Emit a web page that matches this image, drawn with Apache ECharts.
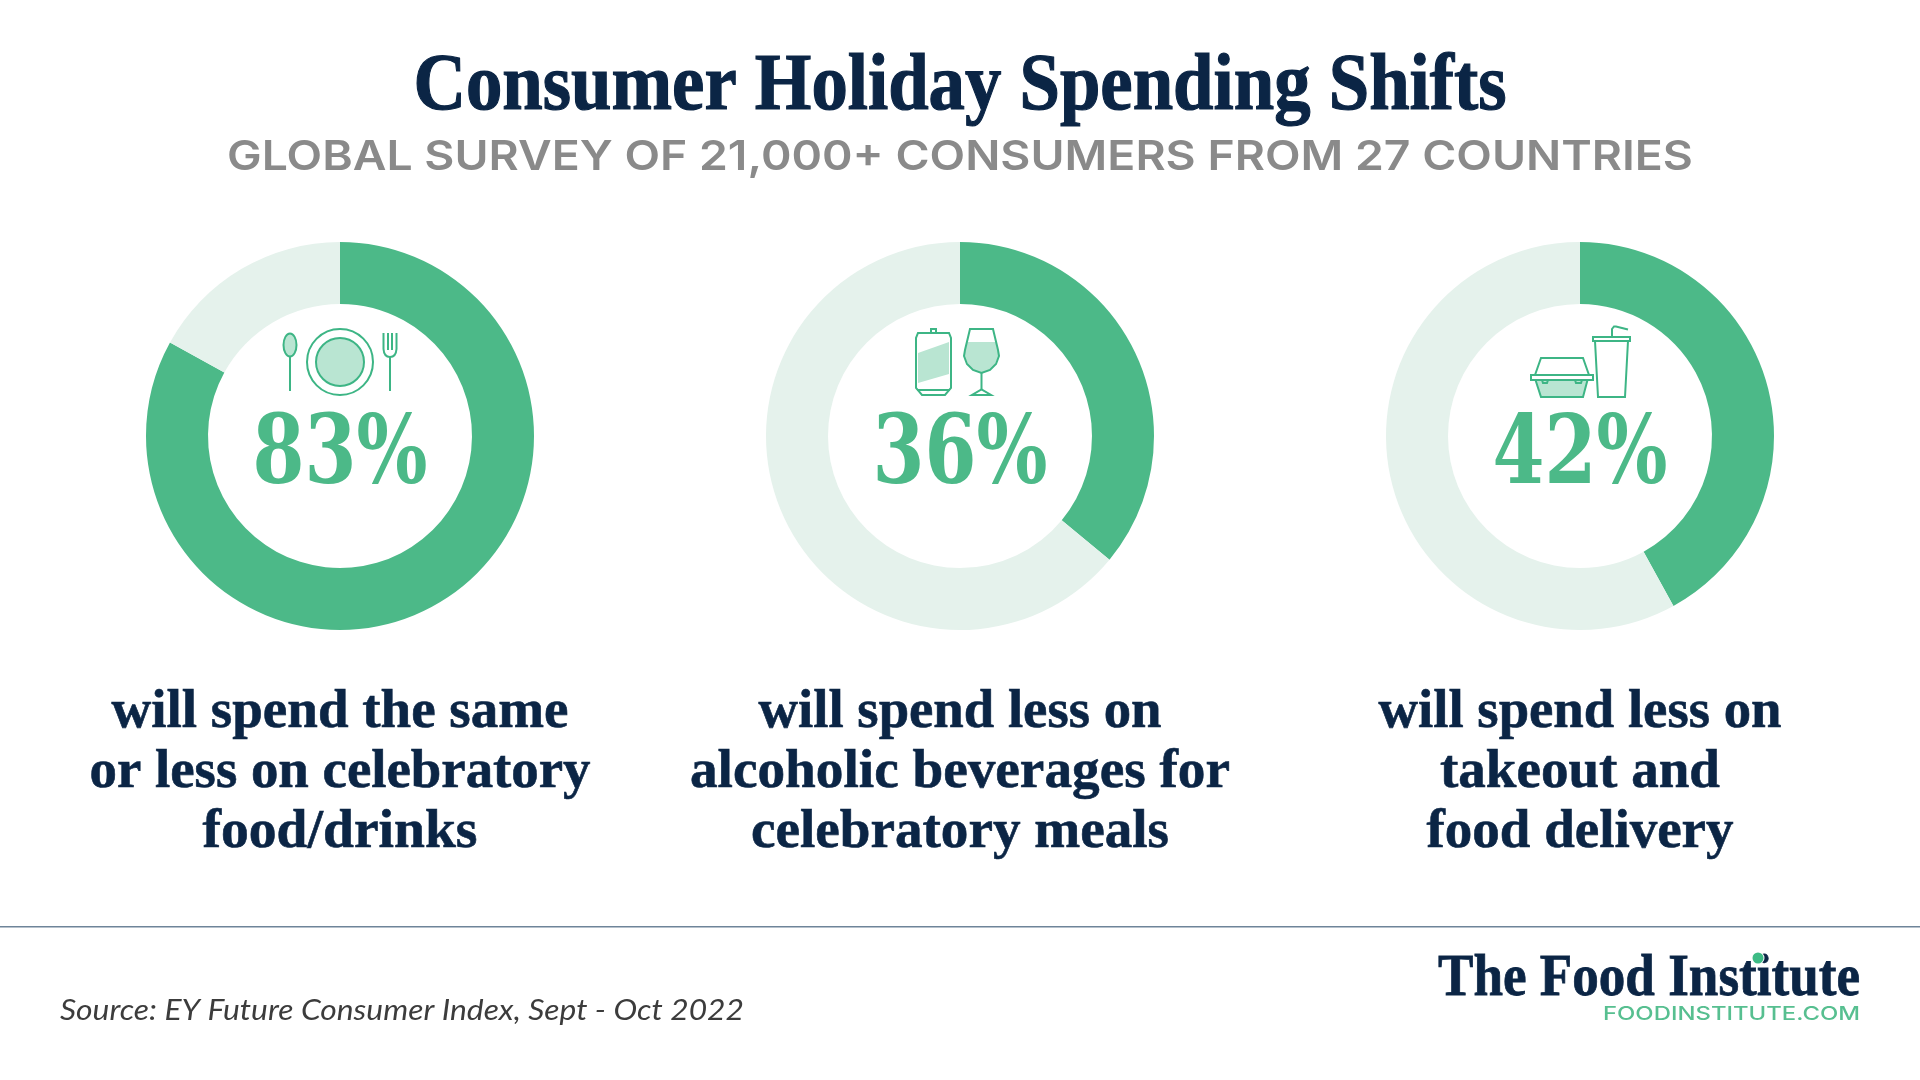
<!DOCTYPE html>
<html><head><meta charset="utf-8">
<style>html,body{margin:0;padding:0;background:#fff}#c{width:1920px;height:1080px}</style>
<script src="https://cdn.jsdelivr.net/npm/echarts@6/dist/echarts.min.js"></script>
</head><body><div id="c"></div>
<script>
const values = [83, 36, 42];
const captions = [
  ["will spend the same", "or less on celebratory", "food/drinks"],
  ["will spend less on", "alcoholic beverages for", "celebratory meals"],
  ["will spend less on", "takeout and", "food delivery"]
];
const captionWidths = [[457, 501, 275], [403, 540, 418], [403, 280, 307]];
const titleText = "Consumer Holiday Spending Shifts";
const subtitleText = "GLOBAL SURVEY OF 21,000+ CONSUMERS FROM 27 COUNTRIES";
const sourceText = "Source: EY Future Consumer Index, Sept - Oct 2022";
const logoText = "The Food Institute";
const logoUrl = "FOODINSTITUTE.COM";

const GREEN = "#4CB988", PALE = "#E5F2EC", NAVY = "#0B2545", LINE = "#3DB585", FILL = "#B9E5D2";
const SERIF = '"Liberation Serif"', SANS = 'Inter';
const centers = [340, 960, 1580];
const CY = 436;

const ctx = document.createElement("canvas").getContext("2d");
function txt(text, x, y, font, color, width, align, fat) {
  ctx.font = font;
  const w = ctx.measureText(text).width;
  const sx = width ? width / w : 1;
  const style = { text, x: 0, y: 0, font, fill: color, align: align || "center", verticalAlign: "middle" };
  if (fat) { style.stroke = color; style.lineWidth = fat; }
  return { type: "text", x, y, scaleX: sx, silent: true, style };
}
const LW = 2;
const stroke = { stroke: LINE, fill: "none", lineWidth: LW };
const solid = { stroke: "none", fill: FILL };
function poly(points, style, closed) {
  return { type: closed === false ? "polyline" : "polygon", silent: true, shape: { points }, style };
}
function circle(cx, cy, r, style) { return { type: "circle", silent: true, shape: { cx, cy, r }, style }; }
function ell(cx, cy, rx, ry, style) { return { type: "ellipse", silent: true, shape: { cx, cy, rx, ry }, style }; }
function seg(x1, y1, x2, y2) { return { type: "line", silent: true, shape: { x1, y1, x2, y2 }, style: { stroke: LINE, lineWidth: LW } }; }
function bez(x1, y1, cx, cy, x2, y2) { return { type: "bezierCurve", silent: true, shape: { x1, y1, cpx1: cx, cpy1: cy, x2, y2 }, style: stroke }; }

const icons = [
  // spoon, plate, fork
  ell(290, 345, 6.5, 11.5, { fill: FILL, stroke: LINE, lineWidth: LW }),
  seg(290, 357, 290, 391),
  circle(340, 362, 33, stroke),
  circle(340, 362, 24, { fill: FILL, stroke: LINE, lineWidth: LW }),
  seg(383.5, 333, 383.5, 349), seg(388, 333, 388, 350), seg(392, 333, 392, 350), seg(396.5, 333, 396.5, 349),
  bez(383.5, 349, 384, 357, 390, 357), bez(396.5, 349, 396, 357, 390, 357),
  seg(390, 357, 390, 391),
  // can
  poly([[918, 353], [949, 342], [949, 374], [918, 383]], solid),
  poly([[918, 333], [949, 333], [951, 338], [951, 388], [945, 395], [922, 395], [916, 388], [916, 338]], stroke),
  poly([[931, 333], [931, 329], [936, 329], [936, 333]], stroke, false),
  seg(917, 390, 950, 390),
  // wine glass
  poly([[967.5, 342], [995.5, 342], [998, 352], [998, 358], [994, 366], [988, 371], [981.5, 373], [975, 371], [969, 366], [965, 358], [965, 352]], solid),
  poly([[970, 329], [993, 329], [998, 350], [999, 356], [996, 364], [990, 370], [981.5, 373], [973, 370], [967, 364], [964, 356], [965, 350]], stroke),
  seg(981.5, 373, 981.5, 390),
  poly([[972, 395], [991, 395], [981.5, 389.5]], stroke),
  // clamshell box
  poly([[1535.5, 380], [1587.5, 380], [1583, 397], [1541, 397]], solid),
  poly([[1535.5, 380], [1541, 397], [1583, 397], [1587.5, 380]], stroke, false),
  poly([[1535, 375], [1541, 358], [1583, 358], [1589, 375]], stroke, false),
  poly([[1531, 375], [1593, 375], [1593, 380], [1531, 380]], { stroke: LINE, fill: "#fff", lineWidth: LW }),
  poly([[1542, 380], [1543, 383], [1547, 383], [1548, 380]], stroke, false),
  poly([[1575, 380], [1576, 383], [1581, 383], [1582, 380]], stroke, false),
  // cup
  poly([[1593, 337], [1630, 337], [1630, 341], [1593, 341]], stroke),
  poly([[1595, 341], [1598, 397], [1625, 397], [1628, 341]], stroke, false),
  poly([[1612, 337], [1612, 329], [1614, 326.5], [1616, 326.5], [1628, 329.5]], stroke, false)
];

const texts = [
  txt(titleText, 960, 88, "bold 80px " + SERIF, NAVY, 1093, "center", 1.2),
  txt(subtitleText, 960, 158, "600 41px " + SANS, "#8A8A8A", 1466),
  { type: "rect", silent: true, shape: { x: 0, y: 926, width: 1920, height: 1.5 }, style: { fill: "#6E8499" } },
  txt(sourceText, 60, 1011, "italic 400 28px Lato", "#3C3C3C", 684, "left"),
  txt(logoText, 1860, 979, "bold 60px " + SERIF, NAVY, 422, "right", 0.8),
  circle(1758, 958, 6.5, { fill: "#fff" }),
  circle(1758, 958, 5.5, { fill: "#3DBB85" }),
  txt(logoUrl, 1860, 1014, "500 19px " + SANS, "#57BF90", 257, "right")
];
values.forEach((v, i) => {
  texts.push(txt(v + "%", centers[i], 458, "bold 96px 'DejaVu Serif'", GREEN, 175));
  captions[i].forEach((line, j) => {
    texts.push(txt(line, centers[i], 713 + j * 60, "bold 54px " + SERIF, NAVY, captionWidths[i][j], "center", 0.6));
  });
});

const series = values.map((v, i) => ({
  type: "pie",
  center: [centers[i], CY],
  radius: [132, 194],
  startAngle: 90,
  clockwise: true,
  silent: true,
  animation: false,
  label: { show: false },
  labelLine: { show: false },
  emphasis: { disabled: true },
  data: [
    { value: v, name: "Yes", itemStyle: { color: GREEN } },
    { value: 100 - v, name: "Other", itemStyle: { color: PALE } }
  ]
}));

const chart = echarts.init(document.getElementById("c"), null, { width: 1920, height: 1080 });
chart.setOption({
  backgroundColor: "#fff",
  animation: false,
  series,
  graphic: { elements: texts.concat(icons) }
});
</script></body></html>
